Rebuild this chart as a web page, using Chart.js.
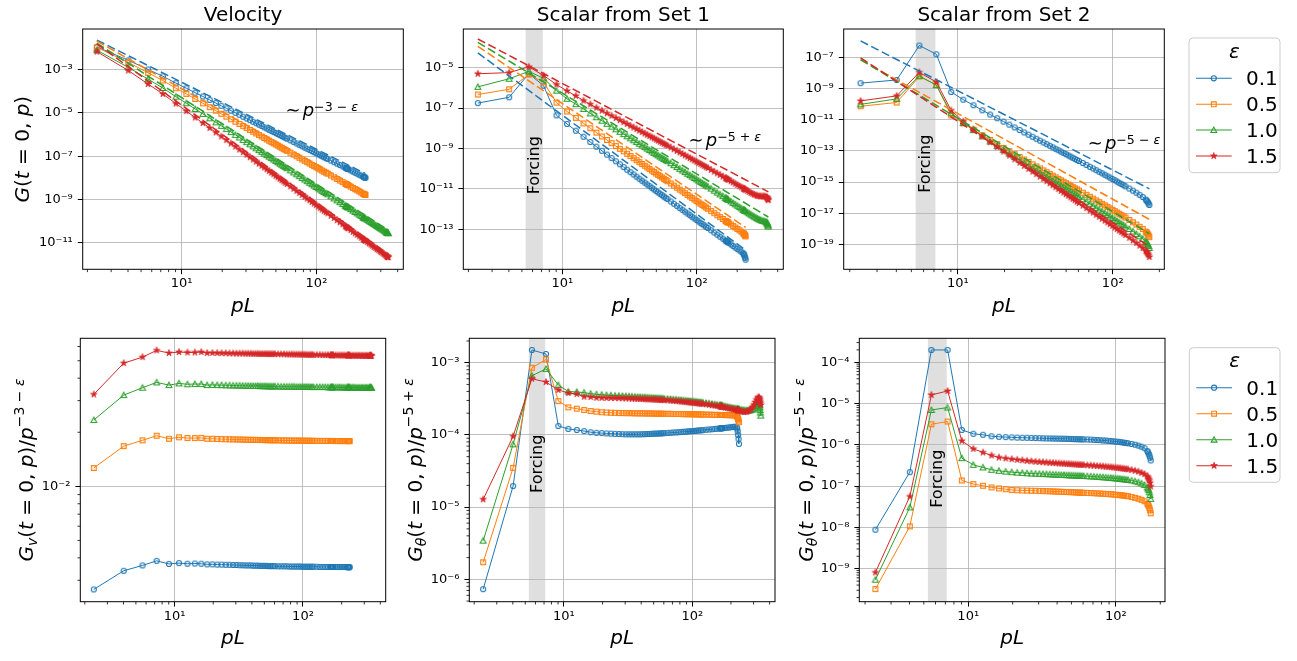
<!DOCTYPE html>
<html><head><meta charset="utf-8">
<script src="https://cdn.jsdelivr.net/npm/chart.js@4.4.1/dist/chart.umd.min.js"></script>
<style>
body{margin:0;background:#fff;width:1297px;height:661px;overflow:hidden;position:relative}
canvas{position:absolute;left:0;top:0}
</style>
</head><body>
<canvas id="c0" width="1297" height="661"></canvas>
<canvas id="c1" width="1297" height="661"></canvas>
<canvas id="c2" width="1297" height="661"></canvas>
<canvas id="c3" width="1297" height="661"></canvas>
<canvas id="c4" width="1297" height="661"></canvas>
<canvas id="c5" width="1297" height="661"></canvas>
<script>
// ================= DATA =================
// wavenumber grid pL (shared by all runs; each series stops at its own last point)
const pL = [2.35,4.02,5.63,7.25,9.05,10.83,12.60,14.38,16.15,17.93,19.70,21.48,23.25,25.03,26.80,28.58,30.35,32.13,33.90,35.68,37.45,39.23,41.00,42.78,44.55,46.33,48.10,49.88,51.65,53.43,55.20,56.98,58.75,60.53,64.08,67.63,71.18,74.73,78.28,81.83,85.38,88.93,92.48,96.03,99.58,103.13,106.68,110.23,113.78,117.33,120.88,127.98,135.08,142.18,149.28,156.38,163.48,165.25,167.03,168.80,170.58,172.35,179.45,186.55,193.65,200.75,207.85,214.95,222.05,223.83,225.60,227.38,229.15,230.93,238.03,245.13,252.23,259.33,266.43,273.53,280.63,287.73,294.83,301.93,309.03,316.13,323.23,330.33,332.10,333.88,335.65,337.43,339.20,340.98];

const epsValues = [0.1, 0.5, 1.0, 1.5];
const epsLabels = ['0.1', '0.5', '1.0', '1.5'];

// ---- compensated spectra (bottom row) ----
// Velocity: G_v / p^(-3-eps)
const velBlue = [0.00267,0.00339,0.00363,0.00385,0.00370,0.00374,0.00371,0.00372,0.00371,0.00368,0.00368,0.00367,0.00367,0.00366,0.00366,0.00365,0.00365,0.00364,0.00364,0.00363,0.00363,0.00363,0.00362,0.00362,0.00362,0.00361,0.00361,0.00361,0.00361,0.00360,0.00360,0.00360,0.00360,0.00360,0.00359,0.00359,0.00359,0.00359,0.00358,0.00358,0.00358,0.00358,0.00358,0.00358,0.00357,0.00357,0.00357,0.00357,0.00357,0.00357,0.00357,0.00357,0.00356,0.00356,0.00356,0.00356,0.00356,0.00356,0.00356,0.00356,0.00356,0.00356,0.00356,0.00356,0.00356,0.00356,0.00356,0.00356,0.00355,0.00355,0.00355,0.00355,0.00355,0.00355];
const velOrange = [0.01265,0.01675,0.01803,0.01914,0.01840,0.01875,0.01857,0.01857,0.01860,0.01840,0.01840,0.01835,0.01832,0.01830,0.01828,0.01826,0.01824,0.01822,0.01820,0.01818,0.01817,0.01816,0.01815,0.01814,0.01813,0.01812,0.01811,0.01810,0.01809,0.01808,0.01807,0.01806,0.01805,0.01804,0.01803,0.01802,0.01801,0.01800,0.01799,0.01798,0.01797,0.01797,0.01796,0.01796,0.01795,0.01795,0.01794,0.01794,0.01793,0.01793,0.01792,0.01792,0.01791,0.01791,0.01790,0.01790,0.01790,0.01789,0.01789,0.01789,0.01789,0.01789,0.01788,0.01788,0.01788,0.01788,0.01787,0.01787,0.01787,0.01787,0.01787,0.01787,0.01787,0.01786];
const velGreen = [0.0234,0.0322,0.0354,0.0379,0.0366,0.0374,0.0370,0.0371,0.0371,0.0366,0.0367,0.0366,0.0366,0.0365,0.0365,0.0364,0.0364,0.0364,0.0363,0.0363,0.0363,0.0362,0.0362,0.0362,0.0362,0.0361,0.0361,0.0361,0.0361,0.0360,0.0360,0.0360,0.0360,0.0360,0.0360,0.0359,0.0359,0.0359,0.0359,0.0359,0.0359,0.0358,0.0358,0.0358,0.0358,0.0358,0.0358,0.0358,0.0357,0.0357,0.0357,0.0357,0.0357,0.0357,0.0357,0.0356,0.0356,0.0356,0.0356,0.0356,0.0356,0.0356,0.0356,0.0356,0.0356,0.0355,0.0355,0.0355,0.0355,0.0355,0.0355,0.0355,0.0355,0.0355,0.0355,0.0355,0.0355,0.0354,0.0354,0.0354,0.0354,0.0354,0.0354,0.0354,0.0354,0.0354,0.0354,0.0354,0.0354,0.0354,0.0354,0.0354,0.0354,0.0354];
const velRed = [0.0325,0.0485,0.0524,0.0571,0.0552,0.0559,0.0556,0.0556,0.0559,0.0552,0.0553,0.0552,0.0551,0.0551,0.0550,0.0550,0.0549,0.0549,0.0549,0.0548,0.0548,0.0548,0.0547,0.0547,0.0547,0.0546,0.0546,0.0546,0.0546,0.0545,0.0545,0.0545,0.0545,0.0545,0.0544,0.0544,0.0544,0.0543,0.0543,0.0543,0.0542,0.0542,0.0542,0.0541,0.0541,0.0541,0.0540,0.0540,0.0540,0.0540,0.0539,0.0539,0.0539,0.0538,0.0538,0.0538,0.0538,0.0537,0.0537,0.0537,0.0537,0.0537,0.0537,0.0536,0.0536,0.0536,0.0536,0.0535,0.0535,0.0535,0.0535,0.0535,0.0535,0.0535,0.0534,0.0534,0.0534,0.0534,0.0534,0.0534,0.0534,0.0533,0.0533,0.0533,0.0533,0.0533,0.0533,0.0533,0.0533,0.0533,0.0533,0.0533,0.0533,0.0533];

// Scalar from Set 1: G_theta / p^(-5+eps)
const set1Blue = [7.3e-7,1.96e-5,1.50e-3,1.32e-3,1.33e-4,1.21e-4,1.17e-4,1.13e-4,1.09e-4,1.07e-4,1.06e-4,1.05e-4,1.04e-4,1.035e-4,1.03e-4,1.025e-4,1.02e-4,1.02e-4,1.02e-4,1.02e-4,1.02e-4,1.02e-4,1.025e-4,1.025e-4,1.03e-4,1.03e-4,1.035e-4,1.04e-4,1.04e-4,1.045e-4,1.05e-4,1.05e-4,1.055e-4,1.06e-4,1.065e-4,1.07e-4,1.08e-4,1.085e-4,1.09e-4,1.10e-4,1.105e-4,1.11e-4,1.12e-4,1.125e-4,1.13e-4,1.135e-4,1.14e-4,1.15e-4,1.155e-4,1.16e-4,1.165e-4,1.18e-4,1.19e-4,1.20e-4,1.21e-4,1.22e-4,1.23e-4,1.23e-4,1.235e-4,1.235e-4,1.24e-4,1.24e-4,1.25e-4,1.26e-4,1.27e-4,1.28e-4,1.29e-4,1.30e-4,1.28e-4,1.22e-4,1.12e-4,1.0e-4,8.8e-5,7.5e-5];
const set1Orange = [1.72e-6,3.5e-5,8.5e-4,1.11e-3,2.94e-4,2.41e-4,2.31e-4,2.21e-4,2.14e-4,2.10e-4,2.06e-4,2.04e-4,2.03e-4,2.02e-4,2.01e-4,2.01e-4,2.00e-4,2.00e-4,2.00e-4,1.99e-4,1.99e-4,1.99e-4,1.99e-4,1.98e-4,1.98e-4,1.98e-4,1.98e-4,1.97e-4,1.97e-4,1.97e-4,1.97e-4,1.97e-4,1.96e-4,1.96e-4,1.96e-4,1.96e-4,1.95e-4,1.95e-4,1.95e-4,1.95e-4,1.94e-4,1.94e-4,1.94e-4,1.94e-4,1.93e-4,1.93e-4,1.93e-4,1.93e-4,1.92e-4,1.92e-4,1.92e-4,1.91e-4,1.91e-4,1.90e-4,1.90e-4,1.90e-4,1.89e-4,1.89e-4,1.89e-4,1.89e-4,1.89e-4,1.89e-4,1.88e-4,1.88e-4,1.88e-4,1.87e-4,1.87e-4,1.86e-4,1.83e-4,1.79e-4,1.72e-4,1.65e-4,1.58e-4,1.50e-4];
const set1Green = [3.43e-6,7.4e-5,6.6e-4,8.2e-4,4.9e-4,3.98e-4,3.94e-4,3.85e-4,3.72e-4,3.65e-4,3.60e-4,3.56e-4,3.53e-4,3.50e-4,3.48e-4,3.46e-4,3.44e-4,3.42e-4,3.40e-4,3.38e-4,3.36e-4,3.35e-4,3.33e-4,3.32e-4,3.30e-4,3.29e-4,3.27e-4,3.26e-4,3.25e-4,3.23e-4,3.22e-4,3.21e-4,3.20e-4,3.18e-4,3.16e-4,3.14e-4,3.11e-4,3.09e-4,3.06e-4,3.04e-4,3.01e-4,2.99e-4,2.97e-4,2.95e-4,2.93e-4,2.91e-4,2.89e-4,2.87e-4,2.85e-4,2.83e-4,2.81e-4,2.77e-4,2.73e-4,2.69e-4,2.65e-4,2.62e-4,2.58e-4,2.57e-4,2.56e-4,2.55e-4,2.54e-4,2.53e-4,2.49e-4,2.46e-4,2.42e-4,2.39e-4,2.36e-4,2.33e-4,2.30e-4,2.29e-4,2.29e-4,2.28e-4,2.27e-4,2.27e-4,2.24e-4,2.22e-4,2.20e-4,2.19e-4,2.18e-4,2.18e-4,2.19e-4,2.21e-4,2.25e-4,2.31e-4,2.40e-4,2.52e-4,2.66e-4,2.72e-4,2.66e-4,2.55e-4,2.40e-4,2.22e-4,2.04e-4,1.85e-4];
const set1Red = [1.28e-5,9.55e-5,6.0e-4,5.4e-4,4.19e-4,3.80e-4,3.68e-4,3.38e-4,3.35e-4,3.27e-4,3.26e-4,3.25e-4,3.25e-4,3.24e-4,3.23e-4,3.22e-4,3.21e-4,3.20e-4,3.18e-4,3.17e-4,3.16e-4,3.15e-4,3.14e-4,3.13e-4,3.12e-4,3.11e-4,3.10e-4,3.09e-4,3.08e-4,3.07e-4,3.06e-4,3.05e-4,3.04e-4,3.03e-4,3.01e-4,2.99e-4,2.96e-4,2.94e-4,2.92e-4,2.90e-4,2.87e-4,2.85e-4,2.83e-4,2.81e-4,2.79e-4,2.77e-4,2.75e-4,2.73e-4,2.72e-4,2.70e-4,2.69e-4,2.65e-4,2.62e-4,2.58e-4,2.55e-4,2.52e-4,2.48e-4,2.47e-4,2.46e-4,2.45e-4,2.44e-4,2.43e-4,2.39e-4,2.36e-4,2.33e-4,2.30e-4,2.27e-4,2.24e-4,2.21e-4,2.20e-4,2.19e-4,2.18e-4,2.17e-4,2.17e-4,2.13e-4,2.10e-4,2.08e-4,2.08e-4,2.10e-4,2.14e-4,2.20e-4,2.30e-4,2.44e-4,2.62e-4,2.84e-4,3.08e-4,3.28e-4,3.32e-4,3.26e-4,3.15e-4,3.02e-4,2.88e-4,2.74e-4,2.60e-4];

// Scalar from Set 2: G_theta / p^(-5-eps)
const set2Blue = [8.8e-9,2.18e-7,1.99e-4,1.99e-4,2.30e-6,1.85e-6,1.75e-6,1.62e-6,1.57e-6,1.54e-6,1.52e-6,1.50e-6,1.49e-6,1.48e-6,1.47e-6,1.46e-6,1.45e-6,1.44e-6,1.43e-6,1.43e-6,1.42e-6,1.42e-6,1.41e-6,1.41e-6,1.40e-6,1.40e-6,1.39e-6,1.39e-6,1.38e-6,1.38e-6,1.37e-6,1.37e-6,1.36e-6,1.36e-6,1.35e-6,1.34e-6,1.32e-6,1.31e-6,1.30e-6,1.28e-6,1.27e-6,1.25e-6,1.24e-6,1.22e-6,1.20e-6,1.19e-6,1.17e-6,1.15e-6,1.13e-6,1.11e-6,1.09e-6,1.05e-6,1.01e-6,9.6e-7,9.0e-7,8.3e-7,7.1e-7,6.6e-7,6.1e-7,5.5e-7,4.9e-7,4.2e-7];
const set2Orange = [3.2e-10,1.06e-8,3.16e-6,3.67e-6,1.37e-7,1.12e-7,1.02e-7,9.3e-8,8.8e-8,8.4e-8,8.1e-8,7.95e-8,7.85e-8,7.8e-8,7.75e-8,7.7e-8,7.65e-8,7.6e-8,7.55e-8,7.5e-8,7.45e-8,7.4e-8,7.35e-8,7.3e-8,7.25e-8,7.2e-8,7.18e-8,7.15e-8,7.1e-8,7.05e-8,7.0e-8,6.98e-8,6.95e-8,6.9e-8,6.85e-8,6.8e-8,6.72e-8,6.65e-8,6.6e-8,6.55e-8,6.48e-8,6.42e-8,6.36e-8,6.3e-8,6.2e-8,6.12e-8,6.04e-8,5.96e-8,5.88e-8,5.8e-8,5.7e-8,5.45e-8,5.2e-8,4.95e-8,4.65e-8,4.3e-8,3.75e-8,3.55e-8,3.25e-8,2.95e-8,2.6e-8,2.2e-8];
const set2Green = [5.4e-10,3.05e-8,7.0e-6,8.0e-6,4.75e-7,3.28e-7,2.83e-7,2.49e-7,2.35e-7,2.25e-7,2.18e-7,2.13e-7,2.09e-7,2.05e-7,2.02e-7,2.0e-7,1.98e-7,1.96e-7,1.95e-7,1.93e-7,1.91e-7,1.9e-7,1.88e-7,1.87e-7,1.86e-7,1.84e-7,1.83e-7,1.82e-7,1.81e-7,1.8e-7,1.79e-7,1.78e-7,1.77e-7,1.76e-7,1.74e-7,1.72e-7,1.7e-7,1.68e-7,1.66e-7,1.64e-7,1.62e-7,1.6e-7,1.58e-7,1.56e-7,1.54e-7,1.52e-7,1.5e-7,1.48e-7,1.46e-7,1.44e-7,1.42e-7,1.37e-7,1.31e-7,1.24e-7,1.16e-7,1.07e-7,9.3e-8,8.7e-8,8.0e-8,7.1e-8,6.1e-8,4.9e-8];
const set2Red = [8.1e-10,5.6e-8,1.62e-5,2.02e-5,1.25e-6,8.0e-7,6.53e-7,5.53e-7,4.94e-7,4.7e-7,4.5e-7,4.35e-7,4.22e-7,4.1e-7,4.0e-7,3.92e-7,3.85e-7,3.79e-7,3.74e-7,3.69e-7,3.64e-7,3.6e-7,3.56e-7,3.52e-7,3.49e-7,3.46e-7,3.43e-7,3.4e-7,3.37e-7,3.34e-7,3.31e-7,3.29e-7,3.27e-7,3.25e-7,3.2e-7,3.16e-7,3.12e-7,3.08e-7,3.04e-7,3.0e-7,2.96e-7,2.92e-7,2.88e-7,2.84e-7,2.8e-7,2.76e-7,2.72e-7,2.68e-7,2.64e-7,2.6e-7,2.55e-7,2.46e-7,2.36e-7,2.24e-7,2.1e-7,1.95e-7,1.72e-7,1.62e-7,1.5e-7,1.37e-7,1.2e-7,9.8e-8];

// normalisation between the compensated (bottom) and raw (top) spectra
const velNorm = [60, 16.9, 10.4, 9.9];
const set1Norm = [16, 12.8, 10, 7.8];
const set2Norm = [20.5, 26, 31, 53];

// dashed power-law guides: log10 of the guide value at pL = 10
const velGuideAt10 = [-3.58, -3.88, -4.29, -4.64];
const set1GuideAt10 = [-7.35, -6.77, -6.26, -5.78];
const set2GuideAt10 = [-9.13, -10.6, -10.9, -11.10];

// forcing band (pL range)
const forcingBand = [5.33, 7.15];

// tick exponents (major ticks, labelled 10^n)
const xTickExp = [1, 2];
const velTopYTickExp = [-3, -5, -7, -9, -11];
const set1TopYTickExp = [-5, -7, -9, -11, -13];
const set2TopYTickExp = [-7, -9, -11, -13, -15, -17, -19];
const velBotYTickExp = [-2];
const set1BotYTickExp = [-3, -4, -5, -6];
const set2BotYTickExp = [-4, -5, -6, -7, -8, -9];

// ================= STYLE / LAYOUT =================
const FONT = '"DejaVu Sans", sans-serif';
const COLORS = ['#1f77b4', '#ff7f0e', '#2ca02c', '#d62728'];
const KINDS = ['o', 's', '^', '*'];

function drawMarker(g, kind, color, x, y) {
  g.save();
  g.strokeStyle = color; g.fillStyle = color; g.lineWidth = 1.1;
  g.beginPath();
  if (kind === 'o') { g.arc(x, y, 2.55, 0, 2 * Math.PI); g.stroke(); }
  else if (kind === 's') { const h = 2.4; g.rect(x - h, y - h, 2 * h, 2 * h); g.stroke(); }
  else if (kind === '^') { const r = 2.9; g.moveTo(x, y - r); g.lineTo(x - r, y + r * 0.85); g.lineTo(x + r, y + r * 0.85); g.closePath(); g.stroke(); }
  else {
    const R = 3.5, r = R * 0.382;
    for (let k = 0; k < 10; k++) {
      const ang = -Math.PI / 2 + k * Math.PI / 5, rr = k % 2 ? r : R;
      const px = x + rr * Math.cos(ang), py = y + rr * Math.sin(ang);
      k ? g.lineTo(px, py) : g.moveTo(px, py);
    }
    g.closePath(); g.lineWidth = 0.7; g.fill(); g.stroke();
  }
  g.restore();
}
function markerImage(kind, color) {
  const c = document.createElement('canvas'); c.width = 12; c.height = 12;
  drawMarker(c.getContext('2d'), kind, color, 6, 6);
  return c;
}
const MARKERS = KINDS.map((k, i) => markerImage(k, COLORS[i]));

const SUP = {'-': '\u207B', '0': '\u2070', '1': '\u00B9', '2': '\u00B2', '3': '\u00B3', '4': '\u2074', '5': '\u2075', '6': '\u2076', '7': '\u2077', '8': '\u2078', '9': '\u2079'};
function pow10Label(v) {
  const n = Math.round(Math.log10(v));
  return '10' + String(n).split('').map(ch => SUP[ch]).join('');
}

function drawRich(ctx, segs, x, y, size, align) {
  let w = 0;
  const info = segs.map(sg => {
    const fs = size * (sg.s || 1);
    const f = (sg.it ? 'italic ' : '') + fs + 'px ' + FONT;
    ctx.font = f;
    const wd = ctx.measureText(sg.t).width + (sg.dx || 0);
    w += wd;
    return {f, wd};
  });
  let cx = align === 'center' ? x - w / 2 : (align === 'right' ? x - w : x);
  ctx.textAlign = 'left'; ctx.textBaseline = 'alphabetic'; ctx.fillStyle = '#000';
  segs.forEach((sg, i) => {
    ctx.font = info[i].f;
    ctx.fillText(sg.t, cx + (sg.dx || 0), y - (sg.dy || 0) * size);
    cx += info[i].wd;
  });
}

function minorTicks(ctx, scale, axis, a) {
  const lo = Math.floor(Math.log10(scale.min)), hi = Math.ceil(Math.log10(scale.max));
  ctx.save(); ctx.strokeStyle = '#000'; ctx.lineWidth = 0.8; ctx.beginPath();
  for (let d = lo; d <= hi; d++) for (let m = 2; m <= 9; m++) {
    const v = m * Math.pow(10, d);
    if (v < scale.min || v > scale.max) continue;
    const p = scale.getPixelForValue(v);
    if (axis === 'x') { ctx.moveTo(p, a.bottom); ctx.lineTo(p, a.bottom + 2.8); }
    else { ctx.moveTo(a.left, p); ctx.lineTo(a.left - 2.8, p); }
  }
  ctx.stroke(); ctx.restore();
}

function drawLegend(ctx, L) {
  ctx.save();
  ctx.beginPath(); ctx.roundRect(L.x, L.y, L.w, L.h, 4);
  ctx.fillStyle = 'rgba(255,255,255,0.8)'; ctx.fill();
  ctx.strokeStyle = '#cccccc'; ctx.lineWidth = 1; ctx.stroke();
  drawRich(ctx, [{t: '\u03B5', it: 1}], L.x + L.w / 2, L.titleBase, 20, 'center');
  L.rows.forEach((ry, i) => {
    ctx.strokeStyle = COLORS[i]; ctx.lineWidth = 1.1;
    ctx.beginPath(); ctx.moveTo(L.x + 7, ry); ctx.lineTo(L.x + 42.7, ry); ctx.stroke();
    drawMarker(ctx, KINDS[i], COLORS[i], L.x + 24.8, ry);
    ctx.font = '20px ' + FONT; ctx.fillStyle = '#000'; ctx.textAlign = 'left'; ctx.textBaseline = 'alphabetic';
    ctx.fillText(epsLabels[i], L.x + 57, ry + 7);
  });
  ctx.restore();
}

const slopes = {
  vel: e => -(3 + e),
  set1: e => -(5 - e),
  set2: e => -(5 + e)
};

function buildDatasets(comp, norm, guide, slopeFn, top) {
  const ds = [];
  comp.forEach((vals, i) => {
    const k = slopeFn(epsValues[i]);
    const pts = vals.map((v, j) => ({x: pL[j], y: top ? norm[i] * v * Math.pow(pL[j], k) : v}));
    ds.push({data: pts, borderColor: COLORS[i], backgroundColor: COLORS[i], borderWidth: 1,
      pointStyle: MARKERS[i], pointRadius: 3, fill: false, tension: 0, order: 10 - i});
    if (top) {
      const pEnd = pL[vals.length - 1];
      const g = p => Math.pow(10, guide[i]) * Math.pow(p / 10, k);
      ds.push({data: [{x: pL[0], y: g(pL[0])}, {x: pEnd, y: g(pEnd)}], borderColor: COLORS[i],
        borderWidth: 1.5, borderDash: [8.3, 3.6], pointRadius: 0, fill: false, order: 5 - i});
    }
  });
  return ds;
}

const segsG = [{t: 'G', it: 1}, {t: '('}, {t: 't', it: 1}, {t: ' = 0, '}, {t: 'p', it: 1}, {t: ')'}];
function compLabel(sub, supTxt) {
  return [{t: 'G', it: 1}, {t: sub, it: 1, s: 0.7, dy: -0.22}, {t: '('}, {t: 't', it: 1}, {t: ' = 0, '},
    {t: 'p', it: 1}, {t: ')/'}, {t: 'p', it: 1}, {t: supTxt, s: 0.7, dy: 0.42}, {t: '\u03B5', it: 1, s: 0.7, dy: 0.42}];
}
function annot(supTxt) {
  return [{t: '\u223C'}, {t: 'p', it: 1, dx: 2}, {t: supTxt, s: 0.7, dy: 0.28}, {t: '\u03B5', it: 1, s: 0.7, dy: 0.28}];
}

const panels = [
  {id: 'c0', area: [82.7, 29, 403.3, 269.3], xr: [0.266, 2.644], yr: [-12.23, -1.118],
   yTicks: velTopYTickExp, yMinor: false, title: 'Velocity', ylabel: segsG, ylabelOff: 53.7,
   ds: buildDatasets([velBlue, velOrange, velGreen, velRed], velNorm, velGuideAt10, slopes.vel, true),
   annot: {x: 59, y: -5.16, segs: annot('\u22123 \u2212 ')}},
  {id: 'c1', area: [463.3, 29, 783.3, 269.3], xr: [0.263, 2.644], yr: [-14.98, -3.084],
   yTicks: set1TopYTickExp, yMinor: false, title: 'Scalar from Set 1', forcing: -9.83,
   ds: buildDatasets([set1Blue, set1Orange, set1Green, set1Red], set1Norm, set1GuideAt10, slopes.set1, true),
   annot: {x: 87, y: -8.9, segs: annot('\u22125 + ')}},
  {id: 'c2', area: [843.7, 29, 1164.3, 269.3], xr: [0.262, 2.333], yr: [-20.61, -5.154],
   yTicks: set2TopYTickExp, yMinor: false, title: 'Scalar from Set 2', forcing: -13.82,
   ds: buildDatasets([set2Blue, set2Orange, set2Green, set2Red], set2Norm, set2GuideAt10, slopes.set2, true),
   annot: {x: 69, y: -12.9, segs: annot('\u22125 \u2212 ')},
   legend: {x: 1189, y: 38, w: 91, h: 134.7, titleBase: 58.3, rows: [78.3, 104.3, 130, 156]}},
  {id: 'c3', area: [80.3, 338.3, 385.7, 601.7], xr: [0.266, 2.644], yr: [-2.642, -1.176],
   yTicks: velBotYTickExp, yMinor: true, ylabel: compLabel('v', '\u22123 \u2212 '), ylabelOff: 47.8,
   ds: buildDatasets([velBlue, velOrange, velGreen, velRed], null, null, slopes.vel, false)},
  {id: 'c4', area: [469.3, 338.3, 775, 601.7], xr: [0.263, 2.644], yr: [-6.31, -2.662],
   yTicks: set1BotYTickExp, yMinor: true, ylabel: compLabel('\u03B8', '\u22125 + '), ylabelOff: 47.6, forcing: -4.40,
   ds: buildDatasets([set1Blue, set1Orange, set1Green, set1Red], null, null, slopes.set1, false)},
  {id: 'c5', area: [859.3, 338.3, 1165, 601.7], xr: [0.262, 2.333], yr: [-9.80, -3.419],
   yTicks: set2BotYTickExp, yMinor: true, ylabel: compLabel('\u03B8', '\u22125 \u2212 '), ylabelOff: 46.8, forcing: -6.82,
   ds: buildDatasets([set2Blue, set2Orange, set2Green, set2Red], null, null, slopes.set2, false),
   legend: {x: 1189.3, y: 347.7, w: 90.7, h: 134.6, titleBase: 367.3, rows: [387.7, 413.7, 439.7, 465.7]}}
];

function panelPlugin(P) {
  return {
    id: 'panelDeco',
    beforeDraw(chart) {
      if (P.forcing === undefined) return;
      const {ctx, chartArea: a, scales: {x}} = chart;
      const x0 = x.getPixelForValue(forcingBand[0]), x1 = x.getPixelForValue(forcingBand[1]);
      ctx.save(); ctx.fillStyle = 'rgb(223,223,223)';
      ctx.fillRect(x0, a.top, x1 - x0, a.bottom - a.top); ctx.restore();
    },
    afterDraw(chart) {
      const {ctx, chartArea: a, scales: {x, y}} = chart;
      ctx.save();
      if (P.forcing !== undefined) {
        const cx = x.getPixelForValue(Math.sqrt(forcingBand[0] * forcingBand[1]));
        const cy = y.getPixelForValue(Math.pow(10, P.forcing));
        ctx.save(); ctx.translate(cx + 4.5, cy); ctx.rotate(-Math.PI / 2);
        drawRich(ctx, [{t: 'Forcing'}], 0, 0, 16, 'center'); ctx.restore();
      }
      ctx.strokeStyle = '#000'; ctx.lineWidth = 1.0;
      ctx.strokeRect(a.left, a.top, a.right - a.left, a.bottom - a.top);
      minorTicks(ctx, x, 'x', a);
      if (P.yMinor) minorTicks(ctx, y, 'y', a);
      const midX = (a.left + a.right) / 2, midY = (a.top + a.bottom) / 2;
      if (P.title) { ctx.font = '20px ' + FONT; ctx.fillStyle = '#000'; ctx.textAlign = 'center'; ctx.textBaseline = 'alphabetic'; ctx.fillText(P.title, midX, a.top - 8); }
      drawRich(ctx, [{t: 'pL', it: 1}], midX, a.bottom + 42.7, 20, 'center');
      if (P.ylabel) {
        ctx.save(); ctx.translate(a.left - P.ylabelOff, midY); ctx.rotate(-Math.PI / 2);
        drawRich(ctx, P.ylabel, 0, 0, 20, 'center'); ctx.restore();
      }
      if (P.annot) {
        drawRich(ctx, P.annot.segs, x.getPixelForValue(P.annot.x), y.getPixelForValue(Math.pow(10, P.annot.y)), 18, 'left');
      }
      if (P.legend) drawLegend(ctx, P.legend);
      ctx.restore();
    }
  };
}

panels.forEach(P => {
  const [L, T, R, B] = P.area;
  const W = 60, H = 40;
  new Chart(document.getElementById(P.id), {
    type: 'line',
    data: {datasets: P.ds},
    options: {
      responsive: false, animation: false, events: [],
      layout: {autoPadding: false, padding: {left: L - W, top: T, right: 1297 - R, bottom: 661 - B - H}},
      plugins: {legend: {display: false}, tooltip: {enabled: false}, title: {display: false}},
      scales: {
        x: {type: 'logarithmic', position: 'bottom', min: Math.pow(10, P.xr[0]), max: Math.pow(10, P.xr[1]),
          afterBuildTicks: s => { s.ticks = xTickExp.map(n => ({value: Math.pow(10, n)})); },
          afterFit: s => { s.height = H; },
          ticks: {callback: v => pow10Label(v), font: {family: FONT, size: 13}, color: '#000', padding: 2, autoSkip: false, maxRotation: 0},
          grid: {color: '#b0b0b0', lineWidth: 0.8, tickLength: 4.9, tickWidth: 1.0, tickColor: '#000', drawTicks: true},
          border: {display: false}},
        y: {type: 'logarithmic', position: 'left', min: Math.pow(10, P.yr[0]), max: Math.pow(10, P.yr[1]),
          afterBuildTicks: s => { s.ticks = P.yTicks.map(n => ({value: Math.pow(10, n)})); },
          afterFit: s => { s.width = W; },
          ticks: {callback: v => pow10Label(v), font: {family: FONT, size: 13}, color: '#000', padding: 5, autoSkip: false},
          grid: {color: '#b0b0b0', lineWidth: 0.8, tickLength: 4.9, tickWidth: 1.0, tickColor: '#000', drawTicks: true},
          border: {display: false}}
      }
    },
    plugins: [panelPlugin(P)]
  });
});
</script>
</body></html>
